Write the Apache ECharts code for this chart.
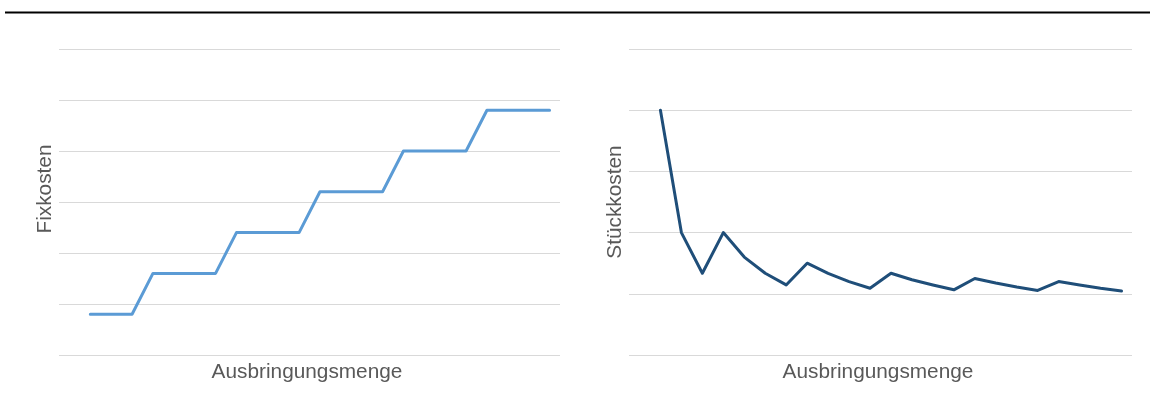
<!DOCTYPE html>
<html>
<head>
<meta charset="utf-8">
<script src="https://cdn.jsdelivr.net/npm/echarts@6/dist/echarts.min.js"></script>
<style>
html,body{margin:0;padding:0;background:#fff;}
#c{width:1151px;height:417px;}
</style>
</head>
<body>
<div id="c"></div>
<script>
// Quantity categories (first slot empty, as in the reference)
const categories = ['', '1','2','3','4','5','6','7','8','9','10','11','12','13','14','15','16','17','18','19','20','21','22','23'];
const fixkosten = [null, 800,800,800,1600,1600,1600,1600,2400,2400,2400,2400,3200,3200,3200,3200,4000,4000,4000,4000,4800,4800,4800,4800];
const stueckkosten = [null, 800,400,267,400,320,267,229,300,267,240,218,267,246,229,213,250,235,222,211,240,229,218,209];
const xTitle = 'Ausbringungsmenge';
const yTitleLeft = 'Fixkosten';
const yTitleRight = 'Stückkosten';

const font = 'Liberation Sans, Arial, sans-serif';
const chart = echarts.init(document.getElementById('c'));
const xAxisBase = {
  type: 'category', data: categories, boundaryGap: true,
  axisLine: {show: false}, axisTick: {show: false}, axisLabel: {show: false},
  name: xTitle, nameLocation: 'middle', nameGap: 7,
  nameTextStyle: {color: '#595959', fontSize: 20.8, fontFamily: font, verticalAlign: 'top', padding: [0, 5, 0, 0]}
};
const yAxisBase = {
  type: 'value', min: 0,
  axisLine: {show: false}, axisTick: {show: false}, axisLabel: {show: false},
  splitLine: {show: true, lineStyle: {color: '#d9d9d9', width: 1}},
  nameLocation: 'middle', nameRotate: 90, nameGap: 3
};
chart.setOption({
  animation: false,
  backgroundColor: '#fff',
  graphic: [{type: 'line', shape: {x1: 5, y1: 12.5, x2: 1150, y2: 12.5}, style: {stroke: '#000', lineWidth: 2}}],
  grid: [
    {left: 59, width: 501, top: 49, height: 306},
    {left: 629, width: 503, top: 49, height: 306}
  ],
  xAxis: [
    Object.assign({}, xAxisBase, {gridIndex: 0}),
    Object.assign({}, xAxisBase, {gridIndex: 1})
  ],
  yAxis: [
    Object.assign({}, yAxisBase, {gridIndex: 0, max: 6000, interval: 1000, name: yTitleLeft,
      nameTextStyle: {color: '#595959', fontSize: 20.8, fontFamily: font, padding: [0, 0, 0, 26]}}),
    Object.assign({}, yAxisBase, {gridIndex: 1, max: 1000, interval: 200, name: yTitleRight,
      nameTextStyle: {color: '#595959', fontSize: 20.8, fontFamily: font}})
  ],
  series: [
    {type: 'line', xAxisIndex: 0, yAxisIndex: 0, data: fixkosten, showSymbol: false, symbol: 'none',
     lineStyle: {color: '#5b9bd5', width: 3, cap: 'round', join: 'round'}},
    {type: 'line', xAxisIndex: 1, yAxisIndex: 1, data: stueckkosten, showSymbol: false, symbol: 'none',
     lineStyle: {color: '#1f4e79', width: 3, cap: 'round', join: 'round'}}
  ]
});
</script>
</body>
</html>
